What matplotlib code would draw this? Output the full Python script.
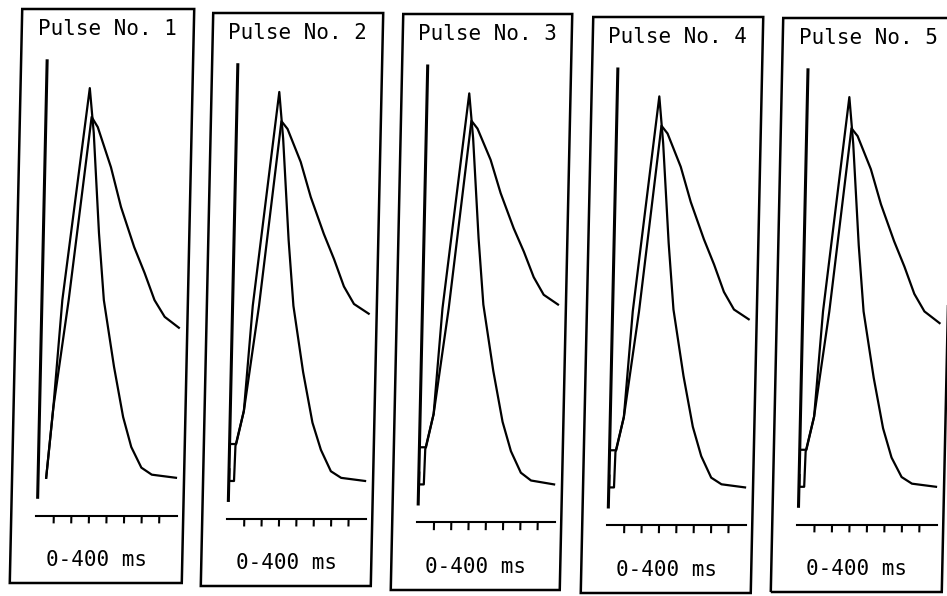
import numpy as np
import matplotlib
matplotlib.use("Agg")
import matplotlib.pyplot as plt
from matplotlib.patches import Rectangle
from matplotlib.transforms import Affine2D

titles = ["Pulse No. 1", "Pulse No. 2", "Pulse No. 3", "Pulse No. 4", "Pulse No. 5"]
time_label = "0-400 ms"
axis_ms = [0, 400]
tick_ms = [50, 100, 150, 200, 250, 300, 350]

# fast trace (time in ms, amplitude with peak = 100)
fast_ms = [
	[26, 42, 61, 126, 140, 161, 179, 212, 241, 266, 296, 326, 395],
	[4, 4, 18, 20, 42, 61, 124, 138, 160, 178, 210, 240, 266, 296, 326, 395],
	[4, 4, 18, 20, 42, 61, 125, 139, 161, 179, 212, 242, 268, 298, 328, 395],
	[4, 4, 18, 20, 42, 61, 124, 138, 160, 178, 211, 241, 267, 297, 327, 395],
	[4, 4, 18, 20, 42, 61, 123, 137, 159, 177, 210, 240, 266, 296, 326, 395],
]
fast_amp = [
	[0, 18, 45.6, 100, 88.5, 62.8, 45.6, 28.5, 15.6, 7.9, 2.6, 0.8, 0],
	[3, 0, 0, 9, 18, 45, 100, 88, 62, 45, 28, 15, 8, 2.5, 0.8, 0],
	[3, 0, 0, 9, 18, 45, 100, 88.5, 63, 46, 29, 16, 8.5, 3, 1, 0],
	[3, 0, 0, 9, 18, 45, 100, 88, 62.5, 45.5, 28.5, 15.5, 8, 2.5, 0.8, 0],
	[3, 0, 0, 9, 18, 45, 100, 88, 62, 45, 28, 15, 7.5, 2.5, 0.8, 0],
]

# slow trace
slow_ms = [
	[26, 42, 79, 133, 151, 191, 222, 262, 293, 323, 353, 394],
	[4, 22, 42, 79, 132, 150, 190, 221, 261, 292, 322, 352, 395],
	[4, 22, 42, 79, 133, 151, 191, 222, 262, 293, 323, 353, 395],
	[4, 22, 42, 79, 132, 150, 190, 221, 261, 292, 322, 352, 395],
	[4, 22, 42, 79, 131, 149, 189, 220, 260, 291, 321, 351, 395],
]
slow_amp = [
	[0, 18, 45.6, 92.6, 90, 79.7, 69.5, 59.2, 52.6, 45.6, 41.3, 38.5],
	[9.5, 9.5, 18, 45, 92.5, 90.5, 82, 73, 63.5, 57, 50, 45.5, 43],
	[9.5, 9.5, 18, 45, 93, 91, 83, 74.5, 65.5, 59.5, 53, 48.5, 46],
	[9.5, 9.5, 18, 45, 92.5, 90.5, 82, 73, 63.5, 57, 50, 45.5, 43],
	[9.5, 9.5, 18, 45, 92, 90, 81.5, 72.5, 63, 56.5, 49.5, 45, 42],
]

# calibration bar and time axis level
cal_ms = 3
cal_amp = [-5, 107]
axis_amp = -9.7

# panel frames in pixels (left, right, top, bottom); the scan is slightly tilted
frame_px = [(16, 188, 9, 583), (207, 377, 13, 586), (397, 566, 14, 590),
	(587, 757, 17, 593), (777, 948, 18, 592)]
W, H = 947, 596
tilt = 0.0217

fig = plt.figure(figsize=(W / 100, H / 100), dpi=100)
mono = ['DejaVu Sans Mono']

for i in range(5):
	l, r, t, b = frame_px[i]
	ax = fig.add_axes([l / W, (H - b) / H, (r - l) / W, (b - t) / H])
	ax.set_xlim(-71, 418)
	ax.set_ylim(-27, 120.3)
	ax.axis('off')

	yc = H - (t + b) / 2
	skew = Affine2D().translate(0, -yc).skew(np.arctan(tilt), 0).translate(0, yc)
	data_tr = ax.transData + skew
	axes_tr = ax.transAxes + skew

	ax.add_patch(Rectangle((0, 0), 1, 1, transform=axes_tr, fill=False,
		lw=1.8, ec='black', clip_on=False))

	ax.plot([cal_ms, cal_ms], cal_amp, color='black', lw=2.2,
		transform=data_tr, clip_on=False)
	ax.plot(fast_ms[i], fast_amp[i], color='black', lw=1.6,
		transform=data_tr, clip_on=False)
	ax.plot(slow_ms[i], slow_amp[i], color='black', lw=1.6,
		transform=data_tr, clip_on=False)

	ax.plot(axis_ms, [axis_amp, axis_amp], color='black', lw=1.5,
		transform=data_tr, clip_on=False)
	ax.vlines(tick_ms, axis_amp - 2.0, axis_amp, color='black', lw=1.5,
		transform=data_tr, clip_on=False)

	ax.text(0.5, 0.965, titles[i], transform=axes_tr, ha='center', va='center',
		fontsize=15, family=mono)
	ax.text(0.5, 0.04, time_label, transform=axes_tr, ha='center', va='center',
		fontsize=15, family=mono)

fig.savefig('out.png', dpi=100)
